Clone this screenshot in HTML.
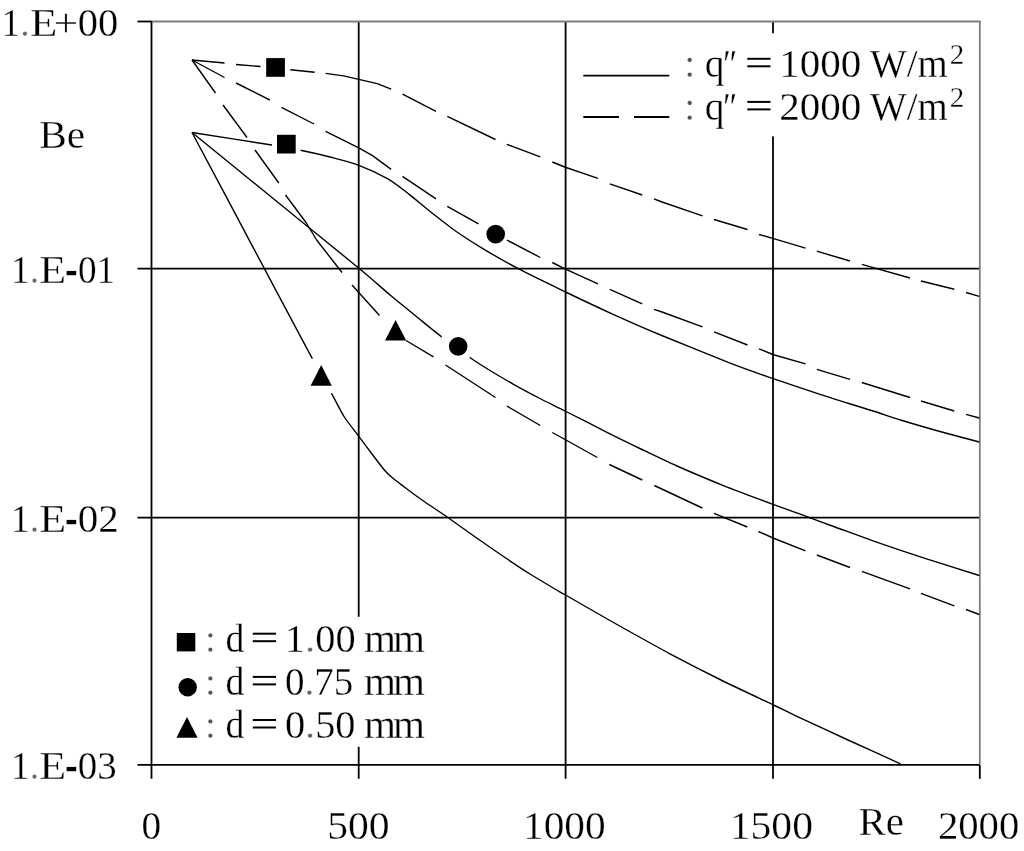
<!DOCTYPE html>
<html><head><meta charset="utf-8"><title>Be vs Re</title>
<style>html,body{margin:0;padding:0;background:#fff;overflow:hidden}svg{display:block;filter:grayscale(1)}</style></head>
<body>
<svg width="1024" height="851" viewBox="0 0 1024 851">
<rect width="1024" height="851" fill="#fff"/>
<g stroke="#000" stroke-width="1.8" fill="none">
<line x1="358.7" y1="21.5" x2="358.7" y2="778.8"/>
<line x1="565.6" y1="21.5" x2="565.6" y2="778.8"/>
<line x1="773.0" y1="21.5" x2="773.0" y2="778.8"/>
<line x1="137.5" y1="268.55" x2="979.8" y2="268.55"/>
<line x1="137.5" y1="517.6" x2="979.8" y2="517.6"/>
<line x1="151.5" y1="21.5" x2="151.5" y2="778.8"/>
<line x1="137.5" y1="764.8" x2="979.8" y2="764.8"/>
<line x1="137.5" y1="21.5" x2="152.5" y2="21.5"/>
<line x1="979.8" y1="764.8" x2="979.8" y2="778.8"/>
</g>
<g stroke="#7f7f7f" stroke-width="1.8" fill="none">
<line x1="152.4" y1="21.5" x2="980.6999999999999" y2="21.5"/>
<line x1="979.8" y1="21.5" x2="979.8" y2="763.9"/>
</g>
<rect x="760" y="33.2" width="30" height="103.2" fill="#fff"/>
<rect x="345" y="616.8" width="30" height="130" fill="#fff"/>
<g stroke="#000" stroke-width="1.4" fill="none" stroke-linejoin="round">
<path d="M192.0,132.5C202.6,134.2 257.2,142.6 271.8,145.0C286.4,147.4 294.0,148.9 301.8,150.5C309.6,152.1 322.4,155.0 330.0,157.0C337.6,159.0 351.2,162.4 358.9,165.3C366.6,168.2 380.9,174.9 387.5,178.7C394.1,182.5 402.7,189.3 408.6,193.9C414.5,198.5 425.7,208.1 432.0,213.0C438.3,217.9 448.9,226.4 455.5,231.0C462.1,235.6 472.8,242.5 481.2,247.6C489.6,252.7 507.4,263.0 518.7,268.9C530.0,274.8 553.2,286.0 565.6,292.0C578.0,298.0 599.2,308.0 612.0,313.8C624.8,319.6 646.1,329.0 661.8,335.5C677.5,342.0 715.3,357.3 729.5,362.8C743.7,368.3 755.9,372.6 768.0,376.8C780.1,381.0 806.0,389.7 820.0,394.3C834.0,398.9 862.3,407.6 873.0,411.0C883.7,414.4 891.6,417.3 900.5,420.0C909.4,422.7 929.5,428.6 940.0,431.5C950.5,434.4 974.1,440.6 979.3,442.0"/>
<path d="M192.0,132.5C203.1,141.5 252.7,181.9 275.0,200.0C297.3,218.1 343.4,255.4 358.9,268.2C374.4,281.0 383.6,289.6 391.0,295.8C398.4,302.0 408.0,309.7 414.6,315.0C421.2,320.3 433.0,330.2 440.4,335.9C447.8,341.6 463.6,353.2 470.2,357.8C476.8,362.4 484.2,367.0 490.0,370.5C495.8,374.0 506.8,380.6 513.5,384.3C520.2,388.0 533.0,394.9 540.0,398.5C547.0,402.1 557.1,407.0 566.0,411.5C574.9,416.0 596.9,427.2 607.0,432.3C617.1,437.4 632.7,445.0 642.0,449.5C651.3,454.0 666.1,461.2 677.0,466.0C687.9,470.8 711.2,480.7 724.0,485.8C736.8,490.9 763.0,500.6 773.0,504.3C783.0,508.0 790.7,510.7 799.0,513.7C807.3,516.7 825.1,523.4 835.0,527.0C844.9,530.6 861.0,536.6 873.0,540.8C885.0,545.0 910.8,553.7 925.0,558.3C939.2,562.9 972.1,573.2 979.3,575.5"/>
<path d="M192.0,132.5C200.0,147.5 236.0,215.1 252.0,245.3C268.0,275.5 301.7,338.9 312.3,358.7C322.9,378.5 327.5,385.9 331.7,393.6C335.9,401.3 340.4,410.8 344.0,416.5C347.6,422.2 355.3,431.6 359.0,436.6C362.7,441.6 368.5,449.4 372.0,454.0C375.5,458.6 382.2,467.6 385.0,470.8C387.8,474.0 390.3,476.1 393.0,478.3C395.7,480.5 401.2,484.6 405.0,487.5C408.8,490.4 416.0,495.8 421.7,499.8C427.4,503.8 440.3,512.3 447.5,517.3C454.7,522.3 468.3,532.1 476.0,537.5C483.7,542.9 497.8,552.6 505.0,557.5C512.2,562.4 523.2,569.7 530.0,574.0C536.8,578.3 551.1,586.7 555.8,589.5C560.5,592.3 557.3,590.3 565.5,595.0C573.7,599.7 603.1,616.7 617.0,624.5C630.9,632.3 656.3,646.5 670.0,653.8C683.7,661.1 706.3,672.7 720.0,679.5C733.7,686.3 762.4,699.7 772.5,704.5C782.6,709.3 785.7,711.1 795.8,715.8C805.9,720.5 834.0,733.6 848.0,740.0C862.0,746.4 893.5,760.6 900.5,763.8"/>
<polyline points="192.0,60.0 224.5,63.0"/>
<polyline points="236.0,64.5 260.5,66.5"/>
<polyline points="290.3,69.8 314.7,72.3"/>
<polyline points="325.6,73.4 343.6,75.9 358.8,79.4 377.2,83.6 391.2,89.1"/>
<polyline points="402.5,94.2 436.0,111.3"/>
<polyline points="447.3,116.3 495.5,139.5"/>
<polyline points="506.8,144.3 540.3,156.8"/>
<polyline points="552.3,162.0 566.0,167.5 598.0,178.3"/>
<polyline points="609.8,183.8 642.3,195.0"/>
<polyline points="654.0,198.8 662.0,202.0 702.5,215.8"/>
<polyline points="714.0,219.5 747.5,229.5"/>
<polyline points="759.0,234.5 772.8,238.3 805.5,248.2"/>
<polyline points="816.8,251.2 850.0,261.0"/>
<polyline points="861.8,264.4 910.0,278.0"/>
<polyline points="921.0,281.0 954.3,289.3"/>
<polyline points="966.0,292.5 979.3,296.3"/>
<polyline points="192.0,60.0 224.5,77.5"/>
<polyline points="236.0,83.0 269.8,100.0"/>
<polyline points="281.5,107.4 314.0,124.0"/>
<polyline points="325.6,131.3 358.8,147.8 372.5,155.6 391.2,169.4"/>
<polyline points="402.5,176.4 436.0,198.8"/>
<polyline points="447.3,206.3 478.5,223.8"/>
<polyline points="506.8,240.0 540.3,257.5"/>
<polyline points="552.3,262.5 566.0,269.3 598.0,283.8"/>
<polyline points="609.8,289.3 642.3,303.8"/>
<polyline points="654.0,309.3 662.0,312.0 702.5,326.8"/>
<polyline points="714.0,331.8 747.5,345.0"/>
<polyline points="759.0,348.8 772.8,354.5 805.5,363.8"/>
<polyline points="816.8,369.3 850.0,379.3"/>
<polyline points="861.8,382.5 910.0,397.5"/>
<polyline points="921.0,401.0 954.3,411.0"/>
<polyline points="966.0,414.3 979.3,418.0"/>
<polyline points="192.0,60.0 215.5,93.0"/>
<polyline points="223.0,105.0 247.0,137.5"/>
<polyline points="255.0,150.0 278.8,183.0"/>
<polyline points="285.5,195.0 306.0,222.5 317.0,240.5 342.0,272.5"/>
<polyline points="352.0,285.0 379.5,315.5"/>
<polyline points="406.0,340.5 433.5,356.8"/>
<polyline points="445.5,365.0 495.5,397.5"/>
<polyline points="506.8,406.0 540.3,425.5"/>
<polyline points="552.3,432.5 566.0,440.0 597.3,457.5"/>
<polyline points="609.3,464.5 642.3,480.0"/>
<polyline points="654.3,485.5 702.3,508.0"/>
<polyline points="714.0,513.3 747.3,527.0"/>
<polyline points="758.5,531.5 773.0,538.0 805.5,550.8"/>
<polyline points="816.8,555.0 850.0,567.5"/>
<polyline points="861.8,571.3 910.0,588.8"/>
<polyline points="921.0,593.3 954.3,605.8"/>
<polyline points="966.0,609.5 979.3,614.5"/>
</g>
<rect x="261.2" y="55.1" width="28.7" height="24.7" fill="#fff"/>
<rect x="272.0" y="131.8" width="28.7" height="24.7" fill="#fff"/>
<rect x="441.7" y="334.4" width="28" height="24" fill="#fff"/>
<rect x="304" y="358.6" width="34" height="34.6" fill="#fff"/>
<rect x="266.2" y="58.1" width="18.7" height="18.7" fill="#000"/>
<rect x="277.0" y="134.8" width="18.7" height="18.7" fill="#000"/>
<circle cx="495.7" cy="234.1" r="9.3" fill="#000"/>
<circle cx="458.2" cy="346.4" r="9.3" fill="#000"/>
<polygon points="321.2,365.1 331.8,385.70000000000005 310.59999999999997,385.70000000000005" fill="#000"/>
<polygon points="395.6,320.0 406.20000000000005,340.6 385.0,340.6" fill="#000"/>
<g font-family="Liberation Serif, serif" font-size="40" fill="#000" stroke="#fff" stroke-width="0.3">
<text transform="translate(1.52,35.60) scale(0.9375,1)">1<tspan fill="#666">.</tspan></text>
<text transform="translate(29.98,35.60) scale(1.1209,1)">E</text>
<text transform="translate(53.73,35.60) scale(1.0827,1)">+</text>
<text transform="translate(77.78,35.60) scale(1.0135,1)">00</text>
<text transform="translate(10.68,282.80) scale(0.9500,1)">1<tspan fill="#666">.</tspan></text>
<text transform="translate(39.30,282.80) scale(1.1023,1)">E</text>
<text transform="translate(77.91,282.80) scale(0.9297,1)">01</text>
<text transform="translate(10.68,531.80) scale(0.9500,1)">1<tspan fill="#666">.</tspan></text>
<text transform="translate(39.30,531.80) scale(1.1023,1)">E</text>
<text transform="translate(77.76,531.80) scale(1.0262,1)">02</text>
<text transform="translate(10.68,778.80) scale(0.9500,1)">1<tspan fill="#666">.</tspan></text>
<text transform="translate(39.30,778.80) scale(1.1023,1)">E</text>
<text transform="translate(77.84,778.80) scale(0.9730,1)">03</text>
<text transform="translate(39.27,147.70) scale(1.0333,1)">Be</text>
<text transform="translate(141.43,838.70) scale(0.9824,1)">0</text>
<text transform="translate(327.16,838.70) scale(1.0400,1)">500</text>
<text transform="translate(523.09,838.70) scale(1.0320,1)">1000</text>
<text transform="translate(729.76,838.70) scale(1.0400,1)">1500</text>
<text transform="translate(858.47,834.50) scale(1.0262,1)">Re</text>
<text transform="translate(937.92,838.70) scale(1.0176,1)">2000</text>
<text transform="translate(684.28,76.80) scale(0.9895,1)" fill="#555">:</text>
<text transform="translate(704.82,76.80) scale(0.9859,1)">q</text>
<text transform="translate(723.07,76.80) scale(0.8571,1)">″</text>
<rect x="747.3" y="57.80" width="23.2" height="2" stroke="none"/><rect x="747.3" y="65.30" width="23.2" height="2" stroke="none"/>
<text transform="translate(779.21,76.80) scale(1.0267,1)">1000</text>
<text transform="translate(870.00,76.80) scale(0.9723,1)">W/m</text>
<text transform="translate(949.79,63.50) scale(0.9667,1)" font-size="30">2</text>
<text transform="translate(684.28,119.90) scale(0.9895,1)" fill="#555">:</text>
<text transform="translate(704.82,119.90) scale(0.9859,1)">q</text>
<text transform="translate(723.07,119.90) scale(0.8571,1)">″</text>
<rect x="747.3" y="100.90" width="23.2" height="2" stroke="none"/><rect x="747.3" y="108.40" width="23.2" height="2" stroke="none"/>
<text transform="translate(779.20,119.90) scale(1.0267,1)">2000</text>
<text transform="translate(870.00,119.90) scale(0.9723,1)">W/m</text>
<text transform="translate(949.79,106.60) scale(0.9667,1)" font-size="30">2</text>
<text transform="translate(204.95,651.70) scale(0.9684,1)" fill="#555">:</text>
<text transform="translate(225.48,651.70) scale(0.9444,1)">d</text>
<rect x="252.8" y="632.70" width="23.2" height="2" stroke="none"/><rect x="252.8" y="640.20" width="23.2" height="2" stroke="none"/>
<text transform="translate(284.86,651.70) scale(1.0108,1)">1<tspan fill="#666">.</tspan>00</text>
<text transform="translate(364.03,651.70) scale(1.0286,1)">m</text>
<text transform="translate(393.03,651.70) scale(1.0286,1)">m</text>
<text transform="translate(204.95,694.90) scale(0.9684,1)" fill="#555">:</text>
<text transform="translate(225.48,694.90) scale(0.9444,1)">d</text>
<rect x="252.8" y="675.90" width="23.2" height="2" stroke="none"/><rect x="252.8" y="683.40" width="23.2" height="2" stroke="none"/>
<text transform="translate(284.94,694.90) scale(0.9761,1)">0<tspan fill="#666">.</tspan>75</text>
<text transform="translate(364.03,694.90) scale(1.0286,1)">m</text>
<text transform="translate(393.03,694.90) scale(1.0286,1)">m</text>
<text transform="translate(204.95,738.00) scale(0.9684,1)" fill="#555">:</text>
<text transform="translate(225.48,738.00) scale(0.9444,1)">d</text>
<rect x="252.8" y="719.00" width="23.2" height="2" stroke="none"/><rect x="252.8" y="726.50" width="23.2" height="2" stroke="none"/>
<text transform="translate(284.88,738.00) scale(1.0104,1)">0<tspan fill="#666">.</tspan>50</text>
<text transform="translate(364.03,738.00) scale(1.0286,1)">m</text>
<text transform="translate(393.03,738.00) scale(1.0286,1)">m</text>
</g>
<rect x="66.6" y="270.9" width="9.6" height="4.3" fill="#000"/>
<rect x="66.6" y="519.9" width="9.6" height="4.3" fill="#000"/>
<rect x="66.6" y="766.9" width="9.6" height="4.3" fill="#000"/>
<g stroke="#000" stroke-width="1.8" fill="none">
<line x1="583.3" y1="75.6" x2="669.3" y2="75.6"/>
<line x1="583.3" y1="117" x2="619" y2="117"/>
<line x1="634" y1="117" x2="669.3" y2="117"/>
</g>
<rect x="176.8" y="633.0" width="18.5" height="18.4" fill="#000"/>
<circle cx="187.7" cy="687.2" r="9.2" fill="#000"/>
<polygon points="187.0,717.0 197.6,737.7 176.4,737.7" fill="#000"/>
</svg>
</body></html>
